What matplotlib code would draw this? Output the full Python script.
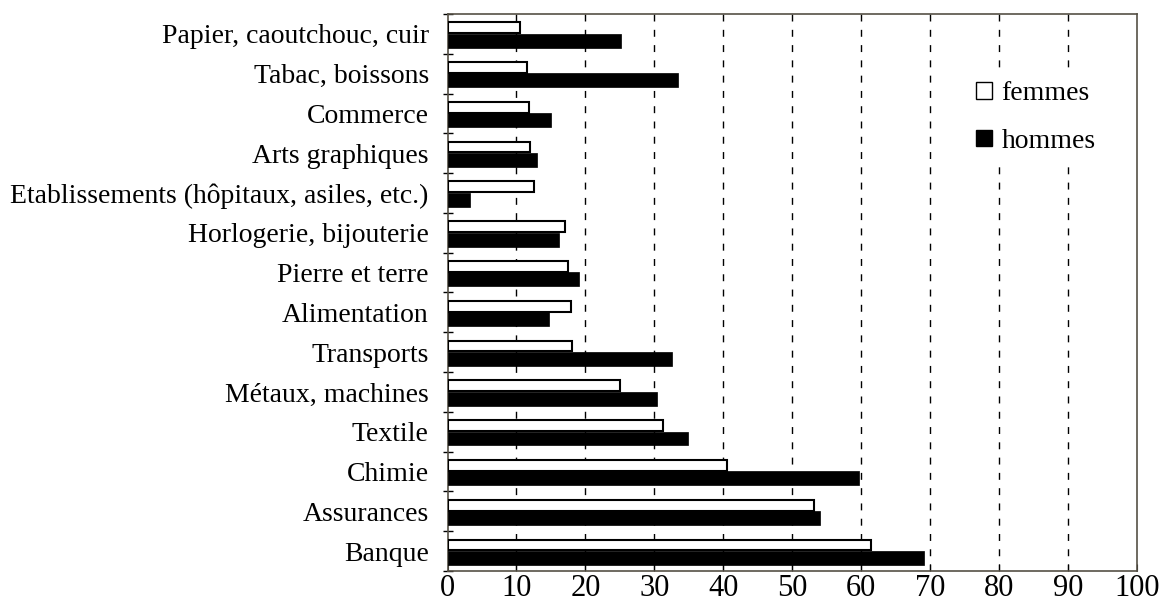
import numpy as np
import matplotlib.pyplot as plt
from matplotlib.patches import Patch

plt.rcParams['font.family'] = ['Liberation Serif', 'DejaVu Serif']

# secteurs (du haut vers le bas)
secteurs = ['Papier, caoutchouc, cuir', 'Tabac, boissons', 'Commerce',
            'Arts graphiques', 'Etablissements (hôpitaux, asiles, etc.)',
            'Horlogerie, bijouterie', 'Pierre et terre', 'Alimentation',
            'Transports', 'Métaux, machines', 'Textile', 'Chimie',
            'Assurances', 'Banque']
femmes = [10.5, 11.5, 11.8, 12.0, 12.6, 17.0, 17.4, 17.9, 18.1, 25.0, 31.2, 40.5, 53.2, 61.4]
hommes = [25.2, 33.4, 15.0, 13.0, 3.3, 16.1, 19.0, 14.7, 32.5, 30.4, 34.9, 59.7, 54.0, 69.1]

n = len(secteurs)
y = np.arange(n)[::-1]

fig = plt.figure(figsize=(11.63, 6.03), dpi=100)
ax = fig.add_axes([0.3848, 0.0531, 0.5929, 0.9237])

ax.barh(y + 0.155, femmes, height=0.27, color='white', edgecolor='black', linewidth=1.5, zorder=3)
ax.barh(y - 0.17, hommes, height=0.35, color='black', edgecolor='black', linewidth=0.5, zorder=3)

ax.set_xlim(0, 100)
ax.set_ylim(-0.5, n - 0.5)
ax.set_xticks(range(0, 101, 10))
ax.tick_params(axis='x', direction='in', length=5, labelsize=22, pad=2)
ax.set_yticks(y)
ax.set_yticklabels(secteurs)
ax.tick_params(axis='y', length=0, labelsize=20, pad=13.5)
ax.set_yticks(np.arange(n + 1) - 0.5, minor=True)
ax.tick_params(axis='y', which='minor', direction='inout', length=7, width=1)

for v in range(10, 100, 10):
    ax.axvline(v, color='black', linestyle=(0, (5, 6)), linewidth=1, zorder=1)

for s in ax.spines.values():
    s.set_color('#555045')
    s.set_linewidth(1.2)

handles = [Patch(facecolor='white', edgecolor='black', linewidth=1),
           Patch(facecolor='black', edgecolor='black')]
leg = ax.legend(handles, ['femmes', 'hommes'], loc='center',
                bbox_to_anchor=(0.8535, 0.814), fontsize=20, frameon=True,
                fancybox=False, edgecolor='white', framealpha=1,
                handlelength=0.55, handleheight=0.55, handletextpad=0.35,
                labelspacing=0.8, borderpad=0.4)
leg.set_zorder(5)

fig.savefig('out.png', dpi=100)
